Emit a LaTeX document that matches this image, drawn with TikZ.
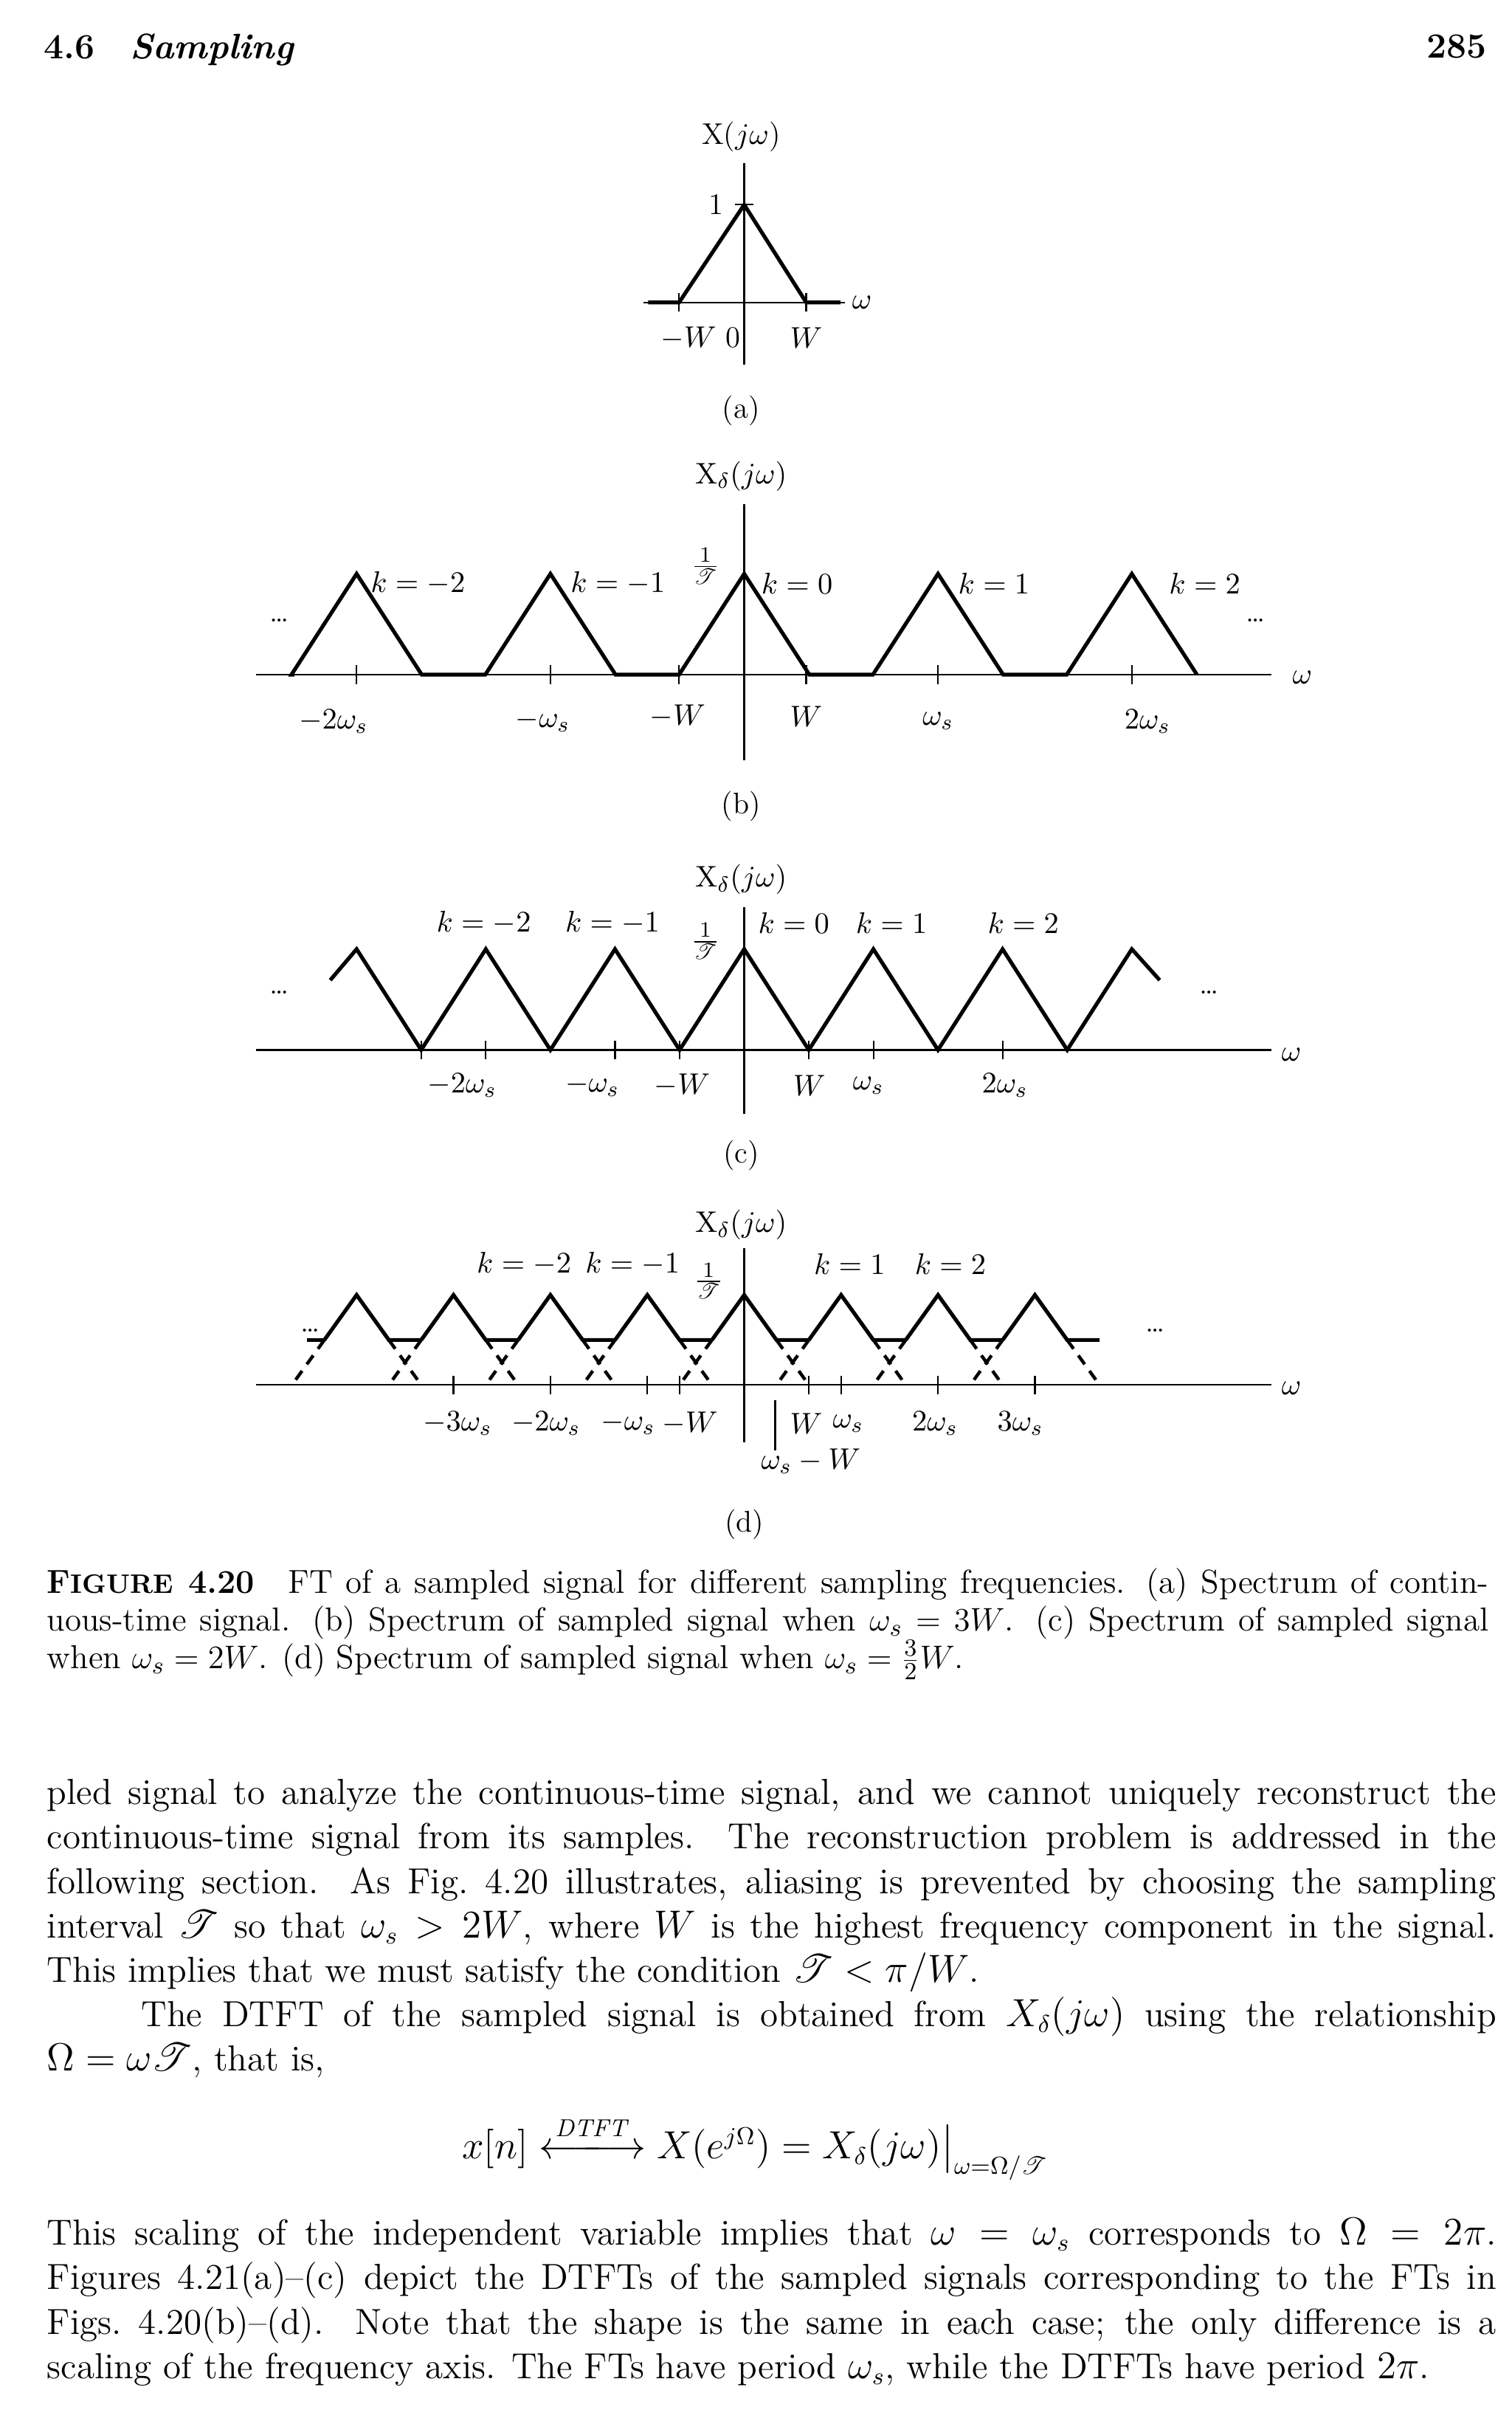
\documentclass[tikz,border=0pt]{standalone}
\usepackage{amsmath,mathrsfs}
\begin{document}
\begin{tikzpicture}[x=0.02cm,y=-0.02cm,
  ax/.style={line width=0.6pt},
  sig/.style={line width=1.4pt},
  dsh/.style={line width=1.2pt,dash pattern=on 4pt off 3pt},
  lab/.style={font=\fontsize{11}{13}\selectfont,inner sep=1pt},
  txt/.style={font=\fontsize{13.3}{16.3}\selectfont,anchor=north west,inner sep=0pt,text width=18.7cm,align=justify}]
\useasboundingbox (0,0) rectangle (975,1563);
\newcommand{\tk}[2]{\draw[ax] (#1,#2-6) -- (#1,#2+6);}
% header
\node[anchor=west,font=\fontsize{13}{15}\selectfont\bfseries] (hd) at (22,32) {4.6\quad\itshape Sampling};
\node[anchor=east,font=\fontsize{13}{15}\selectfont\bfseries] (pg) at (965,30) {285};
% (a)
\draw[ax] (415,195) -- (545,195);
\draw[ax] (480,105) -- (480,235);
\draw[sig] (418,195) -- (438,195) -- (480,132) -- (520,195) -- (542,195);
\tk{438}{195}\tk{520}{195}
\draw[ax] (474,132) -- (486,132);
\node[lab] (a1) at (462,132) {1};
\node[lab] (aw) at (556,195) {$\omega$};
\node[lab] (ax) at (478,88) {X($j\omega$)};
\node[lab] (am) at (452,218) {$-W$ 0};
\node[lab] (aW) at (520,218) {$W$};
\node[lab] (aa) at (478,265) {(a)};
% (b)
\draw[ax] (165,435) -- (820,435);
\draw[ax] (480,325) -- (480,490);
\draw[sig] (190,435) \foreach \c in {230,355,480,605,730}{ -- (\c-42,435) -- (\c,370) -- (\c+42,435)} -- (772,435);
\foreach \x in {230,355,438,520,605,730} {\tk{\x}{435}}
\node[lab] (bw) at (840,437) {$\omega$};
\node[lab] (bx) at (478,307) {$\mathrm{X}_\delta(j\omega)$};
\node[lab] (bT) at (455,365) {$\frac{1}{\mathscr T}$};
\node[lab,anchor=west] (b1) at (237,376) {$k=-2$};
\node[lab,anchor=west] (b2) at (366,376) {$k=-1$};
\node[lab,anchor=west] (b3) at (489,376) {$k=0$};
\node[lab,anchor=west] (b4) at (616,376) {$k=1$};
\node[lab,anchor=west] (b5) at (752,376) {$k=2$};
\node[lab] (bd1) at (180,400) {\dots};
\node[lab] (bd2) at (810,400) {\dots};
\node[lab] (bl1) at (215,465) {$-2\omega_s$};
\node[lab] (bl2) at (350,465) {$-\omega_s$};
\node[lab] (bl3) at (437,462) {$-W$};
\node[lab] (bl4) at (520,462) {$W$};
\node[lab] (bl5) at (605,465) {$\omega_s$};
\node[lab] (bl6) at (740,465) {$2\omega_s$};
\node[lab] (bb) at (478,520) {(b)};
% (c)
\draw[ax] (165,677) -- (820,677);
\draw[ax] (480,585) -- (480,718);
\draw[sig] (213,632) \foreach \i in {0,...,5}{ -- (230+83.33*\i,612) -- (271.67+83.33*\i,677)} -- (730,612) -- (748,632);
\foreach \x in {271.67,313.33,396.67,438.33,521.67,563.33,646.67} {\tk{\x}{677}}
\node[lab] (cw) at (833,680) {$\omega$};
\node[lab] (cx) at (478,567) {$\mathrm{X}_\delta(j\omega)$};
\node[lab] (cT) at (455,607) {$\frac{1}{\mathscr T}$};
\node[lab] (c1) at (312,595) {$k=-2$};
\node[lab] (c2) at (395,595) {$k=-1$};
\node[lab] (c3) at (512,595) {$k=0$};
\node[lab] (c4) at (575,595) {$k=1$};
\node[lab] (c5) at (660,595) {$k=2$};
\node[lab] (cd1) at (180,640) {\dots};
\node[lab] (cd2) at (780,640) {\dots};
\node[lab] (cl1) at (298,700) {$-2\omega_s$};
\node[lab] (cl2) at (382,700) {$-\omega_s$};
\node[lab] (cl3) at (440,700) {$-W$};
\node[lab] (cl4) at (522,700) {$W$};
\node[lab] (cl5) at (560,700) {$\omega_s$};
\node[lab] (cl6) at (648,700) {$2\omega_s$};
\node[lab] (cc) at (478,745) {(c)};
% (d)
\draw[ax] (165,893) -- (820,893);
\draw[ax] (480,805) -- (480,930);
\draw[sig] (198,864) -- (209.2,864);
\foreach \c in {230,292.5,355,417.5,480,542.5,605,667.5}{
  \draw[sig] (\c-20.8,864) -- (\c,835) -- (\c+20.8,864) -- (\c+41.7,864);
  \draw[dsh] (\c-20.8,864) -- (\c-41.7,893);
  \draw[dsh] (\c+20.8,864) -- (\c+41.7,893);
}
\foreach \x in {292.5,355,417.5,438.3,521.7,542.5,605,667.5} {\tk{\x}{893}}
\draw[ax] (500,903) -- (500,935);
\node[lab] (dw) at (833,895) {$\omega$};
\node[lab] (dx) at (478,790) {$\mathrm{X}_\delta(j\omega)$};
\node[lab] (dT) at (457,826) {$\frac{1}{\mathscr T}$};
\node[lab] (d1) at (338,815) {$k=-2$};
\node[lab] (d2) at (408,815) {$k=-1$};
\node[lab] (d4) at (548,815) {$k=1$};
\node[lab] (d5) at (613,815) {$k=2$};
\node[lab] (dd1) at (200,858) {\dots};
\node[lab] (dd2) at (745,858) {\dots};
\node[lab] (dl1) at (295,918) {$-3\omega_s$};
\node[lab] (dl2) at (352,918) {$-2\omega_s$};
\node[lab] (dl3) at (405,918) {$-\omega_s$};
\node[lab] (dl4) at (445,918) {$-W$};
\node[lab] (dl5) at (520,918) {$W$};
\node[lab] (dl6) at (547,918) {$\omega_s$};
\node[lab] (dl7) at (603,918) {$2\omega_s$};
\node[lab] (dl8) at (658,918) {$3\omega_s$};
\node[lab] (dl9) at (523,942) {$\omega_s-W$};
\node[lab] (dd) at (480,983) {(d)};
% caption
\node[txt,font=\fontsize{12.2}{13.8}\selectfont,text width=18.6cm] (cap) at (30,1011) {\textbf{F{\fontsize{9.8}{12}\selectfont IGURE} 4.20}\quad FT of a sampled signal for different sampling frequencies. (a) Spectrum of contin-\linebreak uous-time signal. (b) Spectrum of sampled signal when $\omega_s=3W$. (c) Spectrum of sampled signal\linebreak when $\omega_s=2W$. (d) Spectrum of sampled signal when $\omega_s=\frac32W$.};
% body
\node[txt] (p1) at (30,1147) {pled signal to analyze the continuous-time signal, and we cannot uniquely reconstruct the\linebreak continuous-time signal from its samples. The reconstruction problem is addressed in the\linebreak following section. As Fig.~4.20 illustrates, aliasing is prevented by choosing the sampling\linebreak interval $\mathscr{T}$ so that $\omega_s > 2W$, where $W$ is the highest frequency component in the signal.\linebreak This implies that we must satisfy the condition $\mathscr T < \pi/W$.\par
\hspace*{2.6em}The DTFT of the sampled signal is obtained from $X_\delta(j\omega)$ using the relationship\linebreak $\Omega=\omega\mathscr T$, that is,};
\node[font=\fontsize{13.3}{15}\selectfont] (eq) at (487,1385) {$x[n] \overset{\mathit{DTFT}}{\longleftarrow\!\!\!\longrightarrow} X(e^{j\Omega}) = X_\delta(j\omega)\big|_{\omega=\Omega/\mathscr T}$};
\node[txt] (p3) at (30,1430) {This scaling of the independent variable implies that $\omega=\omega_s$ corresponds to $\Omega=2\pi$.\linebreak Figures 4.21(a)--(c) depict the DTFTs of the sampled signals corresponding to the FTs in\linebreak Figs.~4.20(b)--(d). Note that the shape is the same in each case; the only difference is a\linebreak scaling of the frequency axis. The FTs have period $\omega_s$, while the DTFTs have period $2\pi$.};
\end{tikzpicture}
\end{document}
